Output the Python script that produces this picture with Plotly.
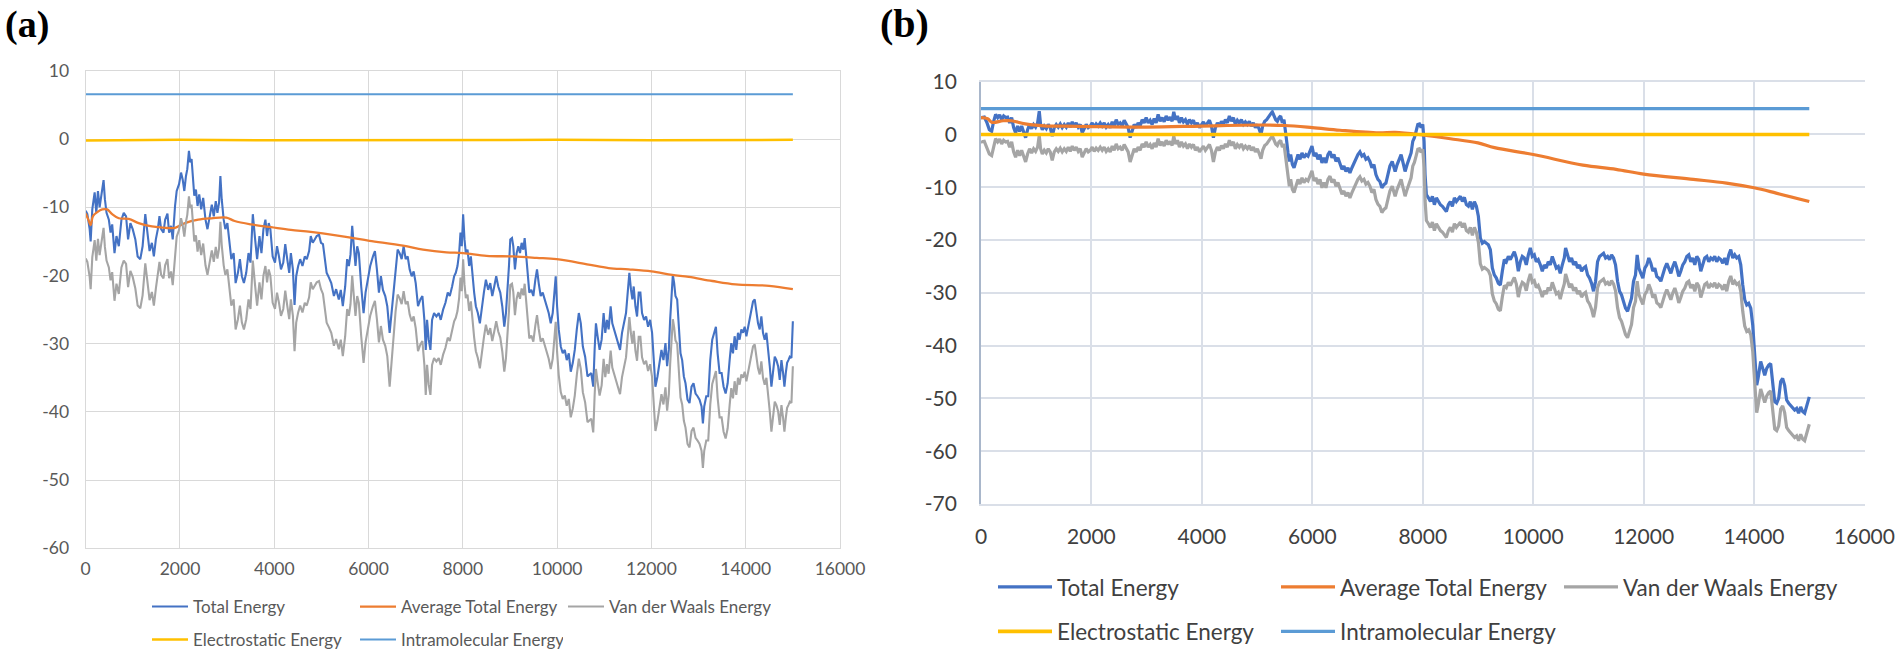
import plotly.graph_objects as go

# ---------------- Panel (a) data ----------------
a_x = [0, 35, 84, 105, 140, 190, 225, 260, 295, 337, 379, 407, 442, 491, 527, 562, 611, 653, 702, 758,
       807, 856, 899, 948, 997, 1053, 1102, 1158, 1207, 1264, 1306, 1355, 1404, 1446, 1488, 1530, 1565,
       1600, 1650, 1685, 1734, 1769, 1811, 1846, 1895, 1930, 1980, 2022, 2057, 2092, 2127, 2155, 2190,
       2218, 2246, 2274, 2303, 2338, 2373, 2408, 2450, 2492, 2541, 2583, 2632, 2675, 2717, 2759, 2794,
       2829, 2857, 2885, 2927, 2962, 3005, 3040, 3089, 3138, 3180, 3229, 3271, 3313, 3356, 3405, 3454,
       3496, 3545, 3594, 3636, 3686, 3728, 3770, 3812, 3847, 3882, 3917, 3966, 4015, 4058, 4100, 4142,
       4191, 4233, 4275, 4317, 4352, 4395, 4430, 4465, 4507, 4549, 4598, 4647, 4689, 4739, 4774, 4816,
       4858, 4900, 4949, 4991, 5033, 5068, 5111, 5160, 5209, 5265, 5312, 5369, 5411, 5454, 5504, 5546,
       5582, 5617, 5653, 5688, 5723, 5759, 5794, 5844, 5894, 5936, 5986, 6035, 6092, 6135, 6177, 6220,
       6262, 6305, 6354, 6397, 6447, 6489, 6532, 6574, 6617, 6659, 6702, 6744, 6787, 6830, 6872, 6915,
       6957, 7000, 7049, 7099, 7142, 7184, 7213, 7241, 7276, 7312, 7347, 7390, 7439, 7489, 7531, 7581,
       7631, 7680, 7723, 7772, 7815, 7850, 7886, 7921, 7950, 7978, 8006, 8035, 8063, 8099, 8134, 8170,
       8205, 8240, 8276, 8318, 8361, 8404, 8446, 8489, 8538, 8581, 8624, 8666, 8708, 8751, 8794, 8836,
       8879, 8914, 8950, 8978, 9006, 9042, 9070, 9105, 9141, 9176, 9212, 9247, 9283, 9311, 9339, 9368,
       9410, 9453, 9495, 9538, 9573, 9609, 9651, 9694, 9736, 9778, 9821, 9864, 9906, 9942, 9970, 9999,
       10034, 10077, 10119, 10162, 10204, 10247, 10289, 10332, 10374, 10417, 10460, 10502, 10545, 10594,
       10644, 10724, 10766, 10795, 10823, 10858, 10901, 10944, 10986, 11021, 11057, 11092, 11135, 11170,
       11206, 11248, 11291, 11334, 11376, 11418, 11461, 11497, 11532, 11567, 11596, 11624, 11660, 11695,
       11730, 11766, 11801, 11844, 11887, 11929, 11972, 12014, 12050, 12085, 12128, 12170, 12213, 12255,
       12298, 12333, 12369, 12397, 12425, 12454, 12482, 12510, 12546, 12581, 12617, 12652, 12688, 12723,
       12766, 12808, 12851, 12893, 12936, 12978, 13021, 13063, 13092, 13120, 13163, 13205, 13248, 13290,
       13333, 13368, 13404, 13446, 13489, 13531, 13574, 13617, 13659, 13694, 13730, 13765, 13800, 13836,
       13871, 13907, 13942, 13978, 14014, 14049, 14084, 14120, 14155, 14191, 14226, 14261, 14297, 14332,
       14367, 14403, 14439, 14474, 14510, 14545, 14580, 14616, 14651, 14687, 14722, 14758, 14793, 14821,
       14850, 14878, 14906, 14935, 14970, 15000]

a_total = [-10.5, -11.0, -13.2, -15.0, -10.3, -7.8, -10.8, -7.6, -10.0, -8.3, -6.0, -8.8, -10.8, -11.8, -13.7, -12.5, -16.7, -14.2, -15.7, -11.8,
           -10.8, -11.3, -14.7, -12.3, -13.2, -14.7, -17.2, -17.6, -15.7, -11.0, -13.7, -16.4, -15.2, -17.2, -14.7, -13.2, -11.3,
           -13.2, -13.7, -11.8, -10.9, -13.7, -12.7, -14.7, -9.8, -7.6, -6.6, -4.9, -5.9, -7.6, -5.4, -4.4, -1.7,
           -3.4, -2.9, -6.1, -8.3, -7.4, -9.8, -8.1, -10.3, -8.6, -11.8, -13.2, -11.3, -9.6, -11.3, -9.1, -10.8,
           -9.3, -5.4, -8.8, -11.8, -13.2, -12.3, -14.5, -17.6, -16.7, -21.1, -19.6, -17.6, -20.1, -21.1, -19.6, -16.7,
           -18.1, -11.0, -14.7, -17.6, -14.2, -16.7, -13.2, -11.8, -14.2, -12.3, -13.2, -17.2, -18.1, -15.7, -17.2, -19.1,
           -18.1, -15.4, -17.6, -19.6, -16.7, -19.1, -24.3, -20.1, -18.6, -17.6, -18.6, -17.2, -17.6, -16.4, -14.2, -15.2,
           -14.7, -14.2, -14.0, -15.2, -15.4, -17.6, -19.6, -20.3, -21.1, -23.0, -22.0, -23.5, -22.1, -24.5, -21.6, -17.6,
           -18.6, -16.9, -12.7, -15.7, -18.6, -15.7, -16.7, -21.6, -25.5, -22.5, -20.6, -18.6, -17.2, -16.4, -19.1, -22.5,
           -20.1, -22.1, -23.0, -24.5, -28.4, -25.5, -21.6, -18.6, -16.2, -16.7, -17.6, -15.7, -17.6, -17.2, -19.1, -20.1,
           -19.4, -21.1, -24.5, -23.5, -23.0, -26.5, -30.9, -26.5, -29.4, -30.9, -26.5, -25.5, -26.0, -25.5, -26.5, -25.0,
           -24.0, -22.5, -23.0, -21.6, -20.1, -19.6, -18.6, -16.7, -13.7, -15.7, -11.0, -14.7, -16.7, -16.2, -18.6, -17.2,
           -20.1, -22.5, -24.5, -25.5, -27.0, -24.5, -22.5, -20.6, -22.1, -21.1, -23.0, -21.6, -20.1, -21.6, -22.5, -24.5,
           -27.5, -25.5, -22.1, -18.6, -14.7, -14.5, -15.7, -19.1, -16.7, -15.7, -16.7, -15.2, -16.2, -14.5, -16.7, -19.6,
           -22.5, -22.1, -23.0, -20.6, -19.1, -21.1, -23.0, -22.5, -23.5, -24.5, -25.5, -27.0, -25.5, -22.5, -20.1, -24.5,
           -27.9, -30.4, -31.4, -30.9, -32.4, -31.4, -34.1, -32.8, -30.9, -27.9, -25.5, -27.0, -30.4, -31.9,
           -34.8, -34.3, -36.3, -30.9, -27.0, -28.9, -30.9, -29.4, -25.5, -28.4, -26.5, -27.9, -24.5, -27.0,
           -27.9, -28.9, -29.9, -30.9, -28.4, -27.0, -25.5, -22.5, -19.6, -22.1, -23.5, -21.6, -24.5, -26.0,
           -22.5, -22.5, -25.5, -26.5, -26.0, -27.5, -26.5, -28.4, -32.4, -36.3, -34.8, -32.8, -30.9, -32.4,
           -29.9, -33.3, -30.9, -26.5, -22.5, -19.9, -21.1, -23.0, -23.5, -27.5, -31.4, -32.4, -34.8, -35.8,
           -38.2, -38.7, -36.3, -35.8, -37.3, -37.7, -38.2, -39.2, -41.7, -39.2, -37.7, -37.7, -32.4, -29.4,
           -28.4, -27.5, -31.4, -34.3, -34.3, -36.3, -37.3, -35.8, -32.4, -29.9, -31.4, -28.9, -30.9, -28.4,
           -29.4, -27.9, -28.4, -27.5, -28.9, -27.5, -26.5, -25.0, -23.8, -23.5, -25.5, -27.0, -27.9, -26.0,
           -28.4, -29.4, -28.4, -30.4, -33.3, -36.3, -34.3, -31.9, -32.4, -33.3, -35.3, -32.4, -34.3, -36.3,
           -34.3, -32.8, -32.4, -31.9, -32.1, -26.7]

a_vdw = [-17.5, -18.0, -20.2, -22.0, -17.3, -14.8, -17.8, -14.6, -17.0, -15.3, -13.0, -15.8, -17.8, -18.8, -20.7, -19.5, -23.7, -21.2, -22.7, -18.8,
         -17.8, -18.3, -21.7, -19.3, -20.2, -21.9, -24.4, -24.8, -22.9, -18.2, -20.9, -23.6, -22.4, -24.4, -21.9, -19.9, -18.0,
         -19.9, -20.4, -18.5, -17.6, -20.4, -19.4, -21.4, -16.5, -14.3, -13.3, -11.6, -12.6, -14.3, -12.1, -11.1, -8.4,
         -10.1, -9.6, -12.8, -15.0, -14.1, -16.5, -14.8, -17.0, -15.3, -18.5, -19.9, -18.0, -16.3, -18.0, -15.8, -17.5,
         -16.0, -12.1, -15.5, -18.5, -19.9, -19.1, -21.3, -24.4, -23.5, -27.9, -26.4, -24.4, -26.9, -27.9, -26.4, -23.5,
         -24.9, -17.8, -21.5, -24.4, -21.0, -23.5, -20.0, -18.6, -21.0, -19.1, -20.0, -24.0, -24.9, -22.5, -24.0, -25.9,
         -24.9, -22.2, -24.4, -26.4, -23.5, -25.9, -31.1, -26.9, -25.4, -24.4, -25.4, -24.0, -24.4, -23.2, -21.0, -22.0,
         -21.5, -21.0, -20.8, -22.0, -22.7, -24.9, -26.9, -27.6, -28.4, -30.3, -29.3, -30.8, -29.4, -31.8, -28.9, -24.9,
         -25.9, -24.2, -20.0, -23.0, -25.9, -23.0, -24.0, -28.9, -32.8, -29.8, -27.9, -25.9, -24.5, -23.7, -26.4, -29.8,
         -27.4, -29.4, -30.3, -31.8, -36.3, -32.8, -28.2, -25.2, -22.8, -23.3, -24.2, -22.3, -24.2, -23.8, -25.7, -26.7,
         -26.0, -27.7, -31.1, -30.1, -29.6, -33.1, -37.5, -33.1, -36.0, -37.5, -33.1, -32.1, -32.6, -32.1, -33.1, -31.6,
         -30.6, -29.1, -29.6, -28.2, -26.7, -26.2, -25.2, -23.3, -20.3, -22.3, -17.6, -21.3, -23.3, -22.8, -25.2, -23.8,
         -26.7, -29.1, -31.1, -32.1, -33.6, -31.1, -29.1, -27.2, -28.7, -27.7, -29.6, -28.2, -26.7, -28.2, -29.1, -31.1,
         -34.1, -32.1, -28.7, -25.2, -21.4, -21.2, -22.4, -25.8, -23.4, -22.4, -23.4, -21.9, -22.9, -21.2, -23.4, -26.3,
         -29.2, -28.8, -29.7, -27.3, -25.8, -27.8, -29.7, -29.2, -30.2, -31.2, -32.2, -33.7, -32.2, -29.2, -26.8, -31.2,
         -34.6, -37.1, -38.1, -37.6, -39.1, -38.1, -40.8, -39.5, -37.6, -34.6, -32.2, -33.7, -37.1, -38.6,
         -41.5, -41.0, -43.0, -37.6, -33.7, -35.6, -37.6, -36.1, -32.2, -34.9, -33.0, -34.4, -31.0, -33.5,
         -34.4, -35.4, -36.4, -37.4, -34.9, -33.5, -32.0, -29.0, -26.1, -28.6, -30.0, -28.1, -31.0, -32.5,
         -29.0, -29.0, -32.0, -33.0, -32.5, -34.0, -33.0, -34.9, -38.9, -42.8, -41.3, -39.3, -37.4, -38.9,
         -36.4, -39.8, -37.4, -33.0, -29.0, -26.4, -27.6, -29.5, -30.0, -34.0, -37.9, -38.9, -41.3, -42.3,
         -44.7, -45.2, -42.8, -42.3, -43.8, -44.2, -44.7, -45.7, -48.2, -45.7, -44.2, -44.2, -38.9, -35.9,
         -34.9, -34.0, -37.9, -40.8, -40.8, -42.9, -43.9, -42.4, -39.0, -36.5, -38.0, -35.5, -37.5, -35.0,
         -36.0, -34.5, -35.0, -34.1, -35.5, -34.1, -33.1, -31.6, -30.4, -30.1, -32.1, -33.6, -34.5, -32.6,
         -35.0, -36.0, -35.0, -37.0, -39.9, -42.9, -40.9, -38.5, -39.0, -39.9, -41.9, -39.0, -40.9, -42.9,
         -40.9, -39.4, -39.0, -38.5, -38.7, -33.3]

a_avg_x = [0, 56, 105, 154, 246, 351, 456, 562, 702, 913, 1123, 1404, 1685, 1895, 2106, 2387, 2668, 2984,
           3159, 3510, 3931, 4352, 4774, 5310, 5667, 6021, 6730, 7156, 7652, 8006, 8503, 9070, 9566, 9991,
           10670, 11092, 11518, 12000, 12440, 12794, 13290, 13787, 14496, 15000]
a_avg = [-10.9, -11.8, -12.6, -11.3, -10.7, -10.3, -10.3, -11.0, -11.6, -11.7, -12.3, -12.8, -13.0, -13.0,
         -12.3, -11.8, -11.6, -11.5, -12.0, -12.5, -12.9, -13.3, -13.6, -14.1, -14.5, -14.9, -15.6, -16.2,
         -16.6, -16.7, -17.1, -17.2, -17.4, -17.6, -18.4, -18.9, -19.1, -19.4, -19.9, -20.2, -20.8, -21.3,
         -21.5, -22.0]

a_es_x = [0, 2000, 4000, 6000, 8000, 10000, 12000, 14000, 15000]
a_es = [-0.2, -0.1, -0.15, -0.1, -0.05, -0.1, -0.15, -0.1, -0.1]

a_intra_x = [0, 15000]
a_intra = [6.6, 6.6]

a_xticks = [0, 2000, 4000, 6000, 8000, 10000, 12000, 14000, 16000]
a_xtext = ["0", "2000", "4000", "6000", "8000", "10000", "12000", "14000", "16000"]
a_yticks = [10, 0, -10, -20, -30, -40, -50, -60]
a_ytext = ["10", "0", "-10", "-20", "-30", "-40", "-50", "-60"]

# ---------------- Panel (b) data ----------------
b_x = [0, 12, 60, 109, 151, 193, 229, 265, 302, 338, 374, 410, 446, 482, 519, 555, 591, 627, 663, 700,
       736, 772, 808, 844, 880, 917, 953, 989, 1025, 1055, 1079, 1110, 1146, 1182, 1218, 1254, 1290,
       1327, 1363, 1399, 1435, 1471, 1508, 1544, 1580, 1616, 1652, 1688, 1725, 1761, 1797, 1833, 1869,
       1905, 1942, 1978, 2014, 2050, 2086, 2122, 2159, 2195, 2231, 2267, 2303, 2340, 2376, 2412, 2448,
       2484, 2520, 2557, 2593, 2629, 2665, 2701, 2738, 2774, 2810, 2846, 2882, 2918, 2955, 2991, 3027,
       3063, 3099, 3136, 3172, 3208, 3244, 3280, 3317, 3353, 3389, 3425, 3461, 3491, 3522, 3558, 3594,
       3630, 3666, 3702, 3739, 3775, 3811, 3847, 3883, 3920, 3956, 3992, 4028, 4064, 4100, 4137, 4173,
       4209, 4245, 4281, 4318, 4354, 4390, 4426, 4462, 4498, 4535, 4571, 4607, 4643, 4679, 4715, 4752,
       4788, 4824, 4860, 4896, 4933, 4969, 5005, 5041, 5071, 5101, 5138, 5174, 5210, 5246, 5276, 5306,
       5337, 5367, 5397, 5427, 5457, 5487, 5518, 5536, 5560, 5584, 5608, 5639, 5669, 5705, 5741, 5777,
       5813, 5849, 5886, 5922, 5958, 5994, 6030, 6066, 6102, 6139, 6175, 6211, 6247, 6283, 6320, 6356,
       6392, 6428, 6464, 6500, 6537, 6573, 6609, 6645, 6681, 6718, 6754, 6790, 6826, 6862, 6898, 6935,
       6971, 7007, 7043, 7079, 7116, 7152, 7188, 7224, 7260, 7297, 7333, 7369, 7405, 7447, 7500, 7536,
       7572, 7608, 7644, 7680, 7717, 7753, 7789, 7819, 7849, 7879, 7910, 7940, 7970, 8000, 8024, 8042,
       8066, 8103, 8139, 8175, 8211, 8247, 8283, 8320, 8356, 8392, 8428, 8464, 8500, 8537, 8573, 8609,
       8645, 8681, 8718, 8754, 8790, 8826, 8862, 8899, 8935, 8971, 9007, 9043, 9079, 9116, 9152, 9188,
       9224, 9260, 9296, 9333, 9369, 9405, 9441, 9477, 9514, 9550, 9586, 9622, 9658, 9694, 9731, 9767,
       9803, 9839, 9875, 9912, 9948, 9984, 10020, 10056, 10092, 10129, 10165, 10201, 10237, 10273, 10310,
       10346, 10382, 10418, 10454, 10490, 10527, 10563, 10587, 10623, 10659, 10695, 10732, 10768, 10804,
       10840, 10876, 10913, 10949, 10985, 11021, 11057, 11093, 11130, 11166, 11202, 11238, 11274, 11311,
       11347, 11383, 11419, 11455, 11491, 11528, 11564, 11600, 11636, 11672, 11709, 11745, 11781, 11817,
       11853, 11883, 11914, 11950, 11986, 12022, 12058, 12094, 12131, 12167, 12203, 12239, 12275, 12312,
       12348, 12384, 12420, 12456, 12493, 12529, 12565, 12601, 12637, 12673, 12709, 12746, 12782, 12818,
       12854, 12890, 12927, 12963, 12999, 13035, 13071, 13107, 13144, 13180, 13216, 13252, 13288, 13324,
       13361, 13397, 13433, 13469, 13505, 13542, 13578, 13614, 13650, 13686, 13723, 13759, 13795, 13831,
       13867, 13903, 13940, 13976, 14000, 14024, 14048, 14072, 14096, 14120, 14157, 14193, 14229, 14265,
       14301, 14337, 14374, 14410, 14446, 14482, 14518, 14554, 14590, 14627, 14663, 14699, 14735, 14771,
       14807, 14844, 14880, 14916, 14952, 15000]

b_total = [3.3, 3.2, 3.3, 2.2, 0.9, 0.6, 2.5, 3.8, 3.2, 3.7, 2.8, 3.5, 3.2, 3.3, 2.2, 3.2, 1.3, 0.3, 1.6, 0.6,
           1.6, 0.3, -0.6, 0.9, 1.9, 1.1, 1.9, 1.4, 2.2, 4.4, 1.9, 0.9, 1.6, 1.1, 1.9, 1.3, -0.3,
           1.3, 1.9, 1.4, 2.0, 1.3, 1.9, 1.4, 2.2, 1.4, 2.4, 1.6, 2.2, 1.4, 1.9, 0.3, 1.3,
           1.9, 1.3, 1.6, 2.2, 1.4, 2.0, 1.6, 2.2, 1.6, 2.2, 1.4, 1.9, 1.3, 2.4, 1.6, 2.8,
           1.9, 2.2, 1.6, 2.7, 2.0, 1.3, -0.6, 0.8, 1.9, 1.3, 2.2, 1.6, 2.8, 2.2, 3.2, 2.2,
           2.7, 1.9, 3.0, 2.2, 3.8, 2.5, 3.2, 2.4, 3.5, 2.7, 3.3, 2.5, 4.3, 2.8, 3.5, 2.2,
           3.2, 2.4, 2.8, 1.9, 2.8, 2.2, 2.7, 1.6, 2.2, 1.3, 1.9, 2.4, 1.6, 2.2, 2.7, 1.6,
           -0.6, 1.3, 2.2, 1.6, 2.5, 1.9, 2.8, 2.2, 3.5, 2.5, 3.2, 1.9, 2.7, 2.2, 2.8, 1.9,
           2.4, 1.9, 2.5, 1.6, 2.2, 1.3, 1.9, 0.9, 0.0, 1.6, 2.5, 2.8, 3.5, 3.9, 4.3, 3.5,
           2.8, 2.5, 3.2, 3.5, 2.2, 2.8, 0.6, -1.3, -3.5, -5.1, -3.8, -5.7, -6.3, -5.1, -3.8, -4.7,
           -3.5, -4.4, -3.8, -4.1, -3.2, -2.2, -4.1, -3.5, -4.7, -3.8, -5.4, -4.4, -5.4, -3.8, -3.2, -4.4,
           -3.8, -5.1, -4.4, -5.4, -6.6, -6.0, -7.0, -6.3, -7.3, -6.3, -5.4, -4.4, -3.8, -3.3, -4.1, -3.8,
           -4.7, -4.4, -5.1, -6.3, -5.7, -7.6, -8.5, -8.9, -10.1, -9.5, -9.2, -7.6, -6.0, -5.1, -7.0, -5.7,
           -4.7, -3.8, -5.4, -7.0, -5.7, -4.4, -3.5, -1.3, -0.6, 0.6, 1.9, 2.0, 1.3, 1.9, -1.3, -7.6,
           -11.4, -12.0, -12.7, -11.7, -13.3, -12.0, -12.7, -13.3, -13.6, -14.2, -14.6, -13.3, -12.7, -13.6, -12.0, -12.7,
           -12.3, -11.7, -12.7, -11.9, -13.3, -13.6, -12.7, -14.2, -12.7, -13.6, -15.5, -19.6, -20.6, -20.3, -20.6, -20.9,
           -21.8, -25.3, -26.6, -27.2, -28.2, -28.5, -25.9, -23.7, -24.1, -23.1, -23.7, -22.8, -22.2, -23.4, -25.9, -24.1,
           -23.1, -23.4, -24.7, -22.8, -21.5, -23.1, -22.8, -24.1, -23.7, -24.7, -25.9, -24.7, -25.3, -24.1, -24.7,
           -23.1, -24.1, -25.3, -25.0, -26.3, -24.7, -23.4, -21.5, -23.1, -24.1, -23.4, -24.7, -24.1, -25.3,
           -24.7, -25.9, -25.3, -25.0, -26.6, -27.2, -28.2, -29.7, -27.8, -24.1, -23.1, -22.8, -22.5, -23.4,
           -23.1, -23.7, -22.8, -23.4, -24.7, -27.8, -29.7, -30.4, -31.6, -32.9, -33.5, -32.3, -31.0, -27.8,
           -26.6, -22.8, -25.3, -26.3, -27.2, -25.3, -24.7, -23.4, -24.4, -25.9, -25.3, -26.9, -27.2, -27.8,
           -26.3, -25.3, -24.4, -25.3, -26.3, -25.0, -24.1, -25.3, -26.9, -25.9, -24.7, -24.1, -23.1, -22.8,
           -24.1, -23.4, -24.7, -23.1, -23.7, -25.9, -24.7, -23.4, -23.1, -24.1, -23.4, -23.7, -23.1, -24.1,
           -23.4, -23.7, -24.4, -23.4, -24.7, -22.8, -21.8, -23.4, -22.8, -23.4, -23.1, -24.7, -28.5, -31.3,
           -32.3, -32.0, -32.9, -36.1, -39.9, -44.3, -47.5, -46.2, -44.9, -43.0, -44.3, -45.6, -44.3, -43.7,
           -43.4, -46.8, -50.6, -50.9, -50.0, -46.8, -46.2, -47.5, -50.3, -50.9, -51.3, -51.6, -52.2, -51.9,
           -52.8, -51.6, -52.5, -52.8, -51.6, -49.7]

b_vdw = [-1.3, -1.4, -1.3, -2.4, -3.7, -4.0, -2.1, -0.8, -1.4, -0.9, -1.8, -1.1, -1.4, -1.3, -2.4, -1.4, -3.3, -4.3, -3.0, -4.0,
         -3.0, -4.3, -5.2, -3.7, -2.7, -3.5, -2.7, -3.2, -2.4, -0.2, -2.7, -3.7, -3.0, -3.5, -2.7, -3.3, -4.9,
         -3.3, -2.7, -3.2, -2.6, -3.3, -2.7, -3.2, -2.4, -3.2, -2.2, -3.0, -2.4, -3.2, -2.7, -4.3, -3.3,
         -2.7, -3.3, -3.0, -2.4, -3.2, -2.6, -3.0, -2.4, -3.0, -2.4, -3.2, -2.7, -3.3, -2.2, -3.0, -1.8,
         -2.7, -2.4, -3.0, -1.9, -2.6, -3.3, -5.2, -3.8, -2.7, -3.3, -2.4, -3.0, -1.8, -2.4, -1.4, -2.4,
         -1.9, -2.7, -1.6, -2.4, -0.8, -2.1, -1.4, -2.2, -1.1, -1.9, -1.3, -2.1, -0.3, -1.8, -1.1, -2.4,
         -1.4, -2.2, -1.8, -2.7, -1.8, -2.4, -1.9, -3.0, -2.4, -3.3, -2.7, -2.2, -3.0, -2.4, -1.9, -3.0,
         -5.2, -3.3, -2.4, -3.0, -2.1, -2.7, -1.8, -2.4, -1.1, -2.1, -1.4, -2.7, -1.9, -2.4, -1.8, -2.7,
         -2.2, -2.7, -2.1, -3.0, -2.4, -3.3, -2.7, -3.7, -4.6, -3.0, -2.1, -1.8, -1.1, -0.7, -0.3, -1.1,
         -1.8, -2.1, -1.4, -1.1, -2.4, -1.8, -4.1, -6.0, -8.2, -9.8, -8.5, -10.4, -11.0, -9.8, -8.5, -9.4,
         -8.2, -9.1, -8.5, -8.8, -7.9, -6.9, -8.8, -8.2, -9.4, -8.5, -10.1, -9.1, -10.1, -8.5, -7.9, -9.1,
         -8.5, -9.8, -9.1, -10.1, -11.3, -10.7, -11.7, -11.0, -12.0, -11.0, -10.1, -9.1, -8.5, -8.0, -8.8, -8.5,
         -9.4, -9.1, -9.8, -11.0, -10.4, -12.3, -13.2, -13.6, -14.8, -14.2, -13.9, -12.3, -10.7, -9.8, -11.7, -10.4,
         -9.4, -8.5, -10.1, -11.7, -10.4, -9.1, -8.2, -6.0, -5.3, -4.1, -2.8, -2.7, -3.4, -2.8, -6.2, -12.5,
         -16.3, -16.9, -17.6, -16.6, -18.2, -16.9, -17.6, -18.2, -18.5, -19.1, -19.5, -18.2, -17.6, -18.5, -16.9, -17.6,
         -17.2, -16.6, -17.6, -16.8, -18.2, -18.5, -17.6, -19.1, -17.6, -18.5, -20.4, -24.5, -25.5, -25.2, -25.5, -25.8,
         -26.7, -30.2, -31.5, -32.1, -33.1, -33.4, -30.8, -28.6, -29.0, -28.0, -28.6, -27.7, -27.1, -28.3, -30.8, -29.0,
         -28.0, -28.3, -29.6, -27.7, -26.4, -28.0, -27.7, -29.0, -28.6, -29.6, -30.8, -29.6, -30.2, -29.0, -29.6,
         -28.0, -29.0, -30.2, -29.9, -31.2, -29.6, -28.3, -26.4, -28.0, -29.0, -28.3, -29.6, -29.0, -30.2,
         -29.6, -30.8, -30.2, -29.9, -31.5, -32.1, -33.1, -34.6, -32.7, -29.0, -28.0, -27.7, -27.4, -28.3,
         -28.0, -28.6, -27.7, -28.3, -29.6, -32.8, -34.7, -35.4, -36.6, -37.9, -38.5, -37.3, -36.0, -32.8,
         -31.6, -27.8, -30.3, -31.3, -32.2, -30.3, -29.7, -28.4, -29.4, -30.9, -30.3, -31.9, -32.2, -32.8,
         -31.3, -30.3, -29.4, -30.3, -31.3, -30.0, -29.1, -30.3, -31.9, -30.9, -29.7, -29.1, -28.1, -27.8,
         -29.1, -28.4, -29.7, -28.1, -28.7, -30.9, -29.7, -28.4, -28.1, -29.1, -28.4, -28.7, -28.1, -29.1,
         -28.4, -28.7, -29.4, -28.4, -29.7, -27.8, -26.8, -28.4, -27.8, -28.4, -28.1, -29.7, -33.5, -36.3,
         -37.3, -37.0, -37.9, -41.1, -45.0, -49.5, -52.7, -51.4, -50.1, -48.2, -49.5, -50.8, -49.5, -48.9,
         -48.6, -52.0, -55.8, -56.1, -55.2, -52.0, -51.4, -52.7, -55.5, -56.1, -56.5, -56.8, -57.4, -57.1,
         -58.0, -56.8, -57.7, -58.0, -56.8, -54.9]

b_avg_x = [0, 120, 200, 400, 550, 800, 1200, 1500, 2000, 3000, 4000, 5000, 5500, 6000, 6500, 7200, 7500,
           8000, 8500, 9000, 9300, 10000, 10900, 11500, 12000, 12900, 13500, 14000, 14400, 15000]
b_avg = [3.2, 3.0, 2.3, 2.6, 2.6, 2.0, 1.6, 1.6, 1.5, 1.4, 1.6, 1.8, 1.7, 1.3, 0.8, 0.3, 0.4,
         -0.1, -0.8, -1.6, -2.5, -3.8, -5.8, -6.6, -7.5, -8.5, -9.2, -10.1, -11.1, -12.7]

b_es_x = [0, 15000]
b_es = [0.0, 0.0]

b_intra_x = [0, 15000]
b_intra = [4.9, 4.9]

b_xticks = [0, 2000, 4000, 6000, 8000, 10000, 12000, 14000, 16000]
b_xtext = ["0", "2000", "4000", "6000", "8000", "10000", "12000", "14000", "16000"]
b_yticks = [10, 0, -10, -20, -30, -40, -50, -60, -70]
b_ytext = ["10", "0", "-10", "-20", "-30", "-40", "-50", "-60", "-70"]

# ---------------- styling ----------------
C_TOTAL = "#4472c4"
C_AVG = "#ed7d31"
C_VDW = "#a5a5a5"
C_ES = "#ffc000"
C_INTRA = "#5b9bd5"

W, H = 1900, 658

def px_x(p):
    return p / W

def px_y(p):
    return 1 - p / H

fig = go.Figure()

# panel a traces
fig.add_trace(go.Scatter(x=a_x, y=a_total, name="Total Energy", mode="lines",
                         line=dict(color=C_TOTAL, width=2.1), xaxis="x", yaxis="y", legend="legend"))
fig.add_trace(go.Scatter(x=a_avg_x, y=a_avg, name="Average Total Energy", mode="lines",
                         line=dict(color=C_AVG, width=2.3, shape="spline"), xaxis="x", yaxis="y", legend="legend"))
fig.add_trace(go.Scatter(x=a_x, y=a_vdw, name="Van der Waals Energy", mode="lines",
                         line=dict(color=C_VDW, width=2.1), xaxis="x", yaxis="y", legend="legend"))
fig.add_trace(go.Scatter(x=a_es_x, y=a_es, name="Electrostatic Energy", mode="lines",
                         line=dict(color=C_ES, width=2.5), xaxis="x", yaxis="y", legend="legend2"))
fig.add_trace(go.Scatter(x=a_intra_x, y=a_intra, name="Intramolecular Energy", mode="lines",
                         line=dict(color=C_INTRA, width=2.1), xaxis="x", yaxis="y", legend="legend2"))

# panel b traces
fig.add_trace(go.Scatter(x=b_x, y=b_total, name="Total Energy", mode="lines",
                         line=dict(color=C_TOTAL, width=3.2), xaxis="x2", yaxis="y2", legend="legend3"))
fig.add_trace(go.Scatter(x=b_avg_x, y=b_avg, name="Average Total Energy", mode="lines",
                         line=dict(color=C_AVG, width=3.2, shape="spline"), xaxis="x2", yaxis="y2", legend="legend3"))
fig.add_trace(go.Scatter(x=b_x, y=b_vdw, name="Van der Waals Energy", mode="lines",
                         line=dict(color=C_VDW, width=3.2), xaxis="x2", yaxis="y2", legend="legend3"))
fig.add_trace(go.Scatter(x=b_es_x, y=b_es, name="Electrostatic Energy", mode="lines",
                         line=dict(color=C_ES, width=3.6), xaxis="x2", yaxis="y2", legend="legend4"))
fig.add_trace(go.Scatter(x=b_intra_x, y=b_intra, name="Intramolecular Energy", mode="lines",
                         line=dict(color=C_INTRA, width=3.2), xaxis="x2", yaxis="y2", legend="legend4"))

FONT = "Lato"
A_TICK = dict(family=FONT, size=17.5, color="#595959")
B_TICK = dict(family=FONT, size=21, color="#404040")
GRID_A = "#d9d9d9"
GRID_B = "#dadfe8"

leg_a = dict(orientation="h", xanchor="left", yanchor="middle", bgcolor="rgba(0,0,0,0)",
             font=dict(family=FONT, size=17, color="#595959"), entrywidth=157, entrywidthmode="pixels",
             itemwidth=36, tracegroupgap=0, borderwidth=0)
leg_b = dict(orientation="h", xanchor="left", yanchor="middle", bgcolor="rgba(0,0,0,0)",
             font=dict(family=FONT, size=22.5, color="#404040"), entrywidth=214, entrywidthmode="pixels",
             itemwidth=54, tracegroupgap=0, borderwidth=0)

fig.update_layout(
    width=W, height=H, autosize=False,
    margin=dict(l=0, r=0, t=0, b=0, autoexpand=False),
    paper_bgcolor="white", plot_bgcolor="white",
    showlegend=True,
    xaxis=dict(domain=[px_x(85.7), px_x(840)], range=[0, 16000],
               tickmode="array", tickvals=a_xticks, ticktext=a_xtext,
               showgrid=True, gridcolor=GRID_A, gridwidth=1.2, zeroline=False,
               showline=True, linecolor=GRID_A, linewidth=1.2, mirror=True,
               ticks="", tickfont=A_TICK, ticklabelstandoff=5, anchor="y", fixedrange=True),
    yaxis=dict(domain=[px_y(548.3), px_y(71)], range=[-60, 10],
               tickmode="array", tickvals=a_yticks, ticktext=a_ytext,
               showgrid=True, gridcolor=GRID_A, gridwidth=1.2, zeroline=False,
               showline=True, linecolor=GRID_A, linewidth=1.2, mirror=True,
               ticks="", tickfont=A_TICK, ticklabelstandoff=12, anchor="x", fixedrange=True),
    xaxis2=dict(domain=[px_x(981), px_x(1864.5)], range=[0, 16000],
                tickmode="array", tickvals=b_xticks, ticktext=b_xtext,
                showgrid=True, gridcolor=GRID_B, gridwidth=1.5, zeroline=False,
                showline=True, linecolor=GRID_B, linewidth=1.5, mirror=True,
                ticks="", tickfont=B_TICK, ticklabelstandoff=13, anchor="y2", fixedrange=True),
    yaxis2=dict(domain=[px_y(504), px_y(81.7)], range=[-70, 10],
                tickmode="array", tickvals=b_yticks, ticktext=b_ytext,
                showgrid=True, gridcolor=GRID_B, gridwidth=1.5, zeroline=False,
                showline=True, linecolor="#a9b7cb", linewidth=1.8, mirror=False,
                ticks="", tickfont=B_TICK, ticklabelstandoff=18, anchor="x2", fixedrange=True),
    legend=dict(leg_a, x=px_x(147), y=px_y(607)),
    legend2=dict(leg_a, x=px_x(147), y=px_y(640)),
    legend3=dict(leg_b, x=px_x(993), y=px_y(587.3)),
    legend4=dict(leg_b, x=px_x(993), y=px_y(631.7)),
    annotations=[
        dict(text="<b>(a)</b>", x=px_x(27), y=px_y(24.5), xref="paper", yref="paper",
             xanchor="center", yanchor="middle", showarrow=False,
             font=dict(family="Liberation Serif", size=38, color="black")),
        dict(text="<b>(b)</b>", x=px_x(904), y=px_y(23.5), xref="paper", yref="paper",
             xanchor="center", yanchor="middle", showarrow=False,
             font=dict(family="Liberation Serif", size=40, color="black")),
    ],
)

fig.write_html("out.html", config={"displayModeBar": False},
               post_script="document.body.style.margin='0';")
